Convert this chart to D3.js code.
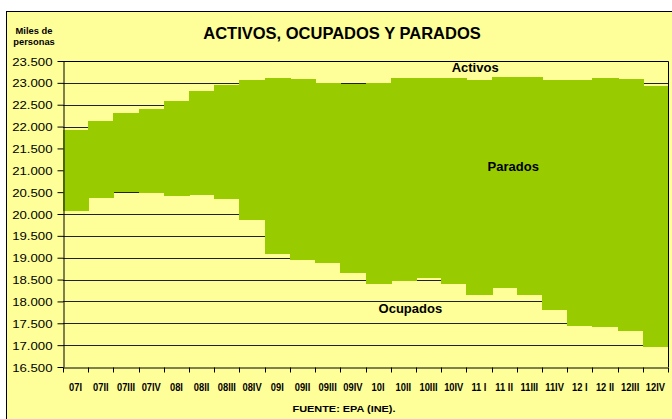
<!DOCTYPE html>
<html lang="es">
  <head>
    <meta charset="utf-8">
    <title>Activos, ocupados y parados</title>
    <style>
      body { margin: 0; background: #fff; }
      svg text { font-family: "Liberation Sans", Arial, sans-serif; fill: #000; }
      .bold { font-weight: bold; }
    </style>
  </head>
  <body>
    <div id="svg-area"></div>
    <script src="https://cdn.jsdelivr.net/npm/d3@7"></script>
    <script>
      const svg_width = 672;
      const svg_height = 419;

      // quarters (EPA), miles de personas
      const quarters = ['07I','07II','07III','07IV','08I','08II','08III','08IV',
        '09I','09II','09III','09IV','10I','10II','10III','10IV',
        '11 I','11 II','11III','11IV','12 I','12 II','12III','12IV'];
      const activos = [21925, 22127, 22303, 22405, 22577, 22807, 22946, 23065,
        23101, 23082, 22993, 22973, 22990, 23104, 23104, 23105,
        23070, 23137, 23134, 23075, 23073, 23110, 23090, 22935];
      const ocupados = [20069, 20367, 20511, 20477, 20402, 20425, 20346, 19857,
        19091, 18945, 18870, 18646, 18394, 18477, 18547, 18408,
        18152, 18303, 18156, 17808, 17433, 17417, 17320, 16957];
      const y_ticks = [16500, 17000, 17500, 18000, 18500, 19000, 19500, 20000,
        20500, 21000, 21500, 22000, 22500, 23000, 23500];

      const margin = {top: 61, right: 4, bottom: 52, left: 63};
      const yellow = '#ffff99';
      const green = '#99cc00';

      const es = d3.formatLocale({decimal: ',', thousands: '.', grouping: [3], currency: ['', '€']});
      const fmt = es.format(',d');

      const svg = d3.select('#svg-area')
        .append('svg')
        .attr('width', svg_width)
        .attr('height', svg_height);

      // chart frame (right/bottom edges fall outside the picture)
      svg.append('rect')
        .attr('x', 6.5).attr('y', 11.5)
        .attr('width', 720).attr('height', 460)
        .attr('fill', yellow)
        .attr('stroke', '#000');

      //scales
      const x_scale = d3.scaleBand()
        .domain(quarters)
        .range([margin.left, svg_width - margin.right])
        .padding(0);
      const y_scale = d3.scaleLinear()
        .domain([16500, 23500])
        .range([svg_height - margin.bottom, margin.top]);

      //gridlines
      svg.append('g')
        .selectAll('line').data(y_ticks.slice(1)).enter()
        .append('line')
        .attr('x1', margin.left).attr('x2', svg_width - margin.right)
        .attr('y1', d => Math.round(y_scale(d)) + 0.5)
        .attr('y2', d => Math.round(y_scale(d)) + 0.5)
        .attr('stroke', '#222');

      //parados = band between ocupados and activos
      svg.append('g')
        .attr('shape-rendering', 'crispEdges')
        .selectAll('rect').data(quarters).enter()
        .append('rect')
        .attr('x', d => x_scale(d))
        .attr('width', (d, i) => i < quarters.length - 1 ? x_scale.bandwidth() + 1 : x_scale.bandwidth())
        .attr('y', (d, i) => y_scale(activos[i]))
        .attr('height', (d, i) => y_scale(ocupados[i]) - y_scale(activos[i]))
        .attr('fill', green);

      //plot border top + right
      svg.append('path')
        .attr('d', `M${margin.left},${margin.top + 0.5}H${svg_width - margin.right + 0.5}V${svg_height - margin.bottom}`)
        .attr('fill', 'none')
        .attr('stroke', '#000');

      //y axis
      const y_axis = d3.axisLeft(y_scale).tickValues(y_ticks).tickFormat(fmt)
        .tickSize(6).tickSizeOuter(0);
      const gy = svg.append('g')
        .attr('transform', `translate(${margin.left + 0.5},0)`)
        .call(y_axis);
      gy.select('.domain').attr('stroke', '#000');
      gy.selectAll('.tick line').attr('stroke', '#000');
      gy.selectAll('.tick text')
        .attr('x', 0).attr('dy', null).attr('y', 4)
        .attr('transform', 'translate(-11,0) scale(1.2,1)')
        .style('font-size', '11px');

      //x axis
      const x_axis = d3.axisBottom(x_scale).tickSize(0).tickSizeOuter(0);
      const gx = svg.append('g')
        .attr('transform', `translate(0,${svg_height - margin.bottom + 0.5})`)
        .call(x_axis);
      gx.select('.domain').attr('stroke', '#000');
      gx.selectAll('.tick text')
        .attr('y', 0).attr('dy', null)
        .attr('transform', 'translate(0,23) scale(0.85,1)')
        .attr('class', 'bold')
        .style('font-size', '11px');
      // tick marks on category boundaries
      const bounds = quarters.map(d => x_scale(d)).concat([x_scale.range()[1]]);
      gx.append('g')
        .selectAll('line').data(bounds).enter()
        .append('line')
        .attr('x1', d => Math.round(d) + 0.5).attr('x2', d => Math.round(d) + 0.5)
        .attr('y1', 0).attr('y2', 5)
        .attr('stroke', '#000');

      //title and notes
      svg.append('text')
        .attr('class', 'bold')
        .attr('x', 342).attr('y', 39)
        .attr('text-anchor', 'middle')
        .style('font-size', '16.5px')
        .text('ACTIVOS, OCUPADOS Y PARADOS');

      svg.append('g')
        .attr('transform', 'translate(34,0) scale(1.1,1)')
        .selectAll('text').data(['Miles de', 'personas']).enter()
        .append('text')
        .attr('class', 'bold')
        .attr('x', 0).attr('y', (d, i) => 34 + i * 11)
        .attr('text-anchor', 'middle')
        .style('font-size', '8.5px')
        .text(d => d);

      svg.append('text')
        .attr('class', 'bold')
        .attr('transform', 'translate(344,412) scale(1.15,1)')
        .attr('text-anchor', 'middle')
        .style('font-size', '9.5px')
        .text('FUENTE: EPA (INE).');

      //series labels
      const series_labels = [
        {name: 'Activos', q: '11 I', f: 0.35, v: 23237},
        {name: 'Parados', q: '11 II', f: 0.86, v: 20982},
        {name: 'Ocupados', q: '10II', f: 0.78, v: 17724}
      ];
      svg.append('g')
        .selectAll('text').data(series_labels).enter()
        .append('text')
        .attr('class', 'bold')
        .attr('x', d => x_scale(d.q) + x_scale.bandwidth() * d.f)
        .attr('y', d => y_scale(d.v))
        .attr('text-anchor', 'middle')
        .style('font-size', '13px')
        .text(d => d.name);
    </script>
  </body>
</html>
